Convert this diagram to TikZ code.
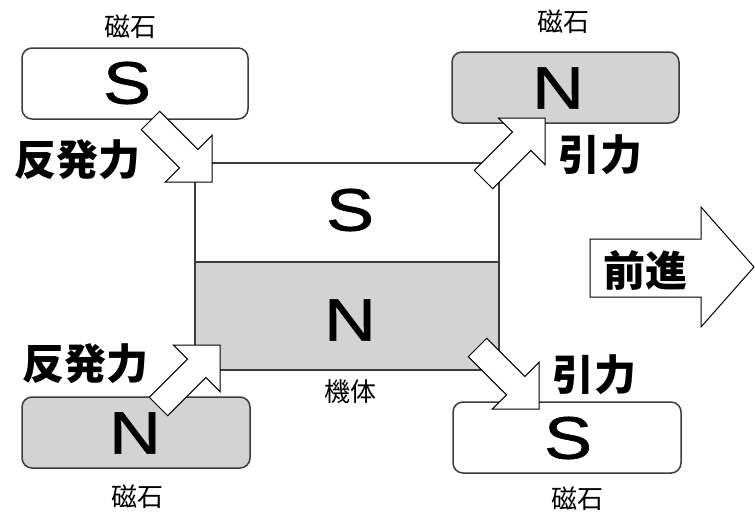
\documentclass[tikz,border=0pt]{standalone}
\usepackage{fontspec}
\setmainfont{Liberation Sans}
\newfontfamily\polefont[FakeBold=1]{Liberation Sans}
\newfontfamily\jp{Noto Sans CJK JP}
\definecolor{gfill}{HTML}{D3D3D3}
\definecolor{edge}{HTML}{3C3C3C}
\tikzset{
  blockarrow/.pic={\path[barrow] (0,0) -- (-33,-33) -- (-33,-13) -- (-87,-13) -- (-87,13) -- (-33,13) -- (-33,33) -- cycle;}
}
\begin{document}
\begin{tikzpicture}[x=1pt,y=-1pt,line join=miter,
  mag/.style={draw=edge, line width=1.5pt, rounded corners=10pt, minimum height=71pt, inner sep=0pt},
  magN/.style={mag, fill=gfill},
  magS/.style={mag, fill=white},
  body/.style={draw=edge, line width=1.5pt, inner sep=0pt, minimum width=304pt},
  pole/.style={font=\polefont\fontsize{60}{60}\selectfont, inner sep=0pt},
  small/.style={font=\jp\fontsize{26}{26}\selectfont, inner sep=0pt},
  force/.style={font=\jp\bfseries\fontsize{42}{42}\selectfont, inner sep=0pt},
  barrow/.style={draw=black, line width=1pt, fill=white},
  ]
\useasboundingbox (0,0) rectangle (755,514);
% magnets
\node[magS, minimum width=226pt] (m1) at (135,83.5) {};
\node[magN, minimum width=227pt] (m2) at (565.5,87.5) {};
\node[magN, minimum width=228pt] (m3) at (136,432.5) {};
\node[magS, minimum width=228pt] (m4) at (567,437.5) {};
% body
\node[body, fill=white, minimum height=99pt] (bS) at (347,212.5) {};
\node[body, fill=gfill, minimum height=108pt] (bN) at (347,316) {};
% pole letters
\node[pole] (p1) at (127,83) {\scalebox{1.2}[1]{S}};
\node[pole] (p2) at (558,88) {\scalebox{1.2}[1]{N}};
\node[pole] (p3) at (135,433) {\scalebox{1.2}[1]{N}};
\node[pole] (p4) at (568,438) {\scalebox{1.2}[1]{S}};
\node[pole] (p5) at (350,210) {\scalebox{1.2}[1]{S}};
\node[pole] (p6) at (350,320) {\scalebox{1.2}[1]{N}};
% force arrows
\pic[rotate=-45] at (212,182) {blockarrow};
\pic[rotate=45] at (545,118) {blockarrow};
\pic[rotate=45] at (220,345) {blockarrow};
\pic[rotate=-45] at (539,409) {blockarrow};
% forward arrow
\path[barrow] (590,239) -- (701,239) -- (701,207) -- (754,267) -- (701,327) -- (701,297) -- (590,297) -- cycle;
% labels
\node[small] (l1) at (130,27) {磁石};
\node[small] (l2) at (563,22) {磁石};
\node[small] (l3) at (137,497) {磁石};
\node[small] (l4) at (577,499) {磁石};
\node[small] (l5) at (350,392) {機体};
\node[force] (f1) at (77,160) {反発力};
\node[force] (f2) at (85,364) {反発力};
\node[force] (f3) at (600,155) {引力};
\node[force] (f4) at (594,375) {引力};
\node[force] (f5) at (645,270) {前進};
\end{tikzpicture}
\end{document}
